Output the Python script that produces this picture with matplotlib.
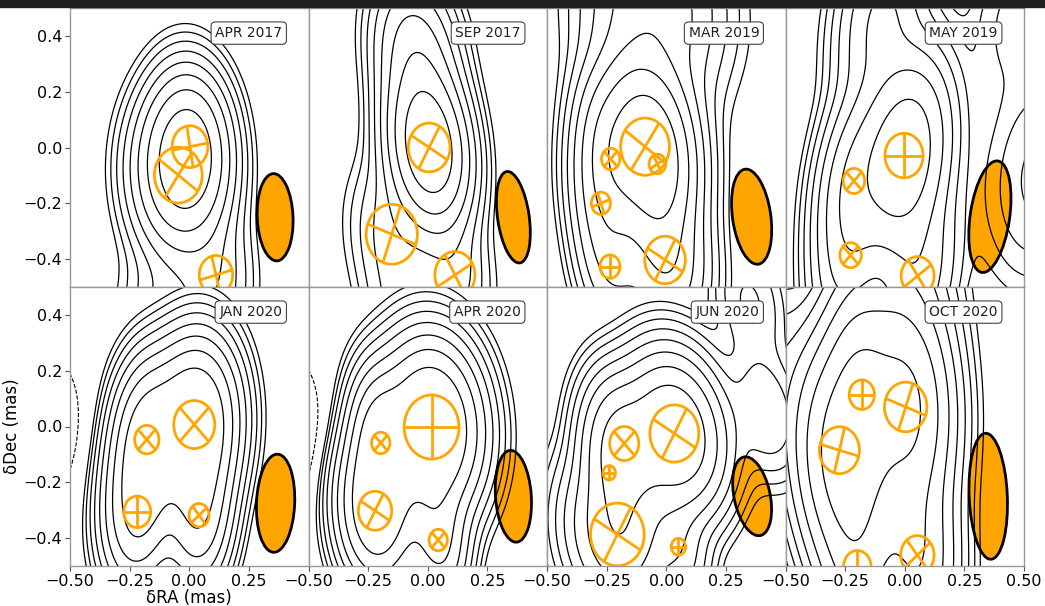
import numpy as np
import matplotlib
matplotlib.use('Agg')
import matplotlib.pyplot as plt
from matplotlib.patches import Ellipse, Circle, Rectangle

# epoch labels
epochs = ['APR 2017', 'SEP 2017', 'MAR 2019', 'MAY 2019',
          'JAN 2020', 'APR 2020', 'JUN 2020', 'OCT 2020']

# model components (mas): position, diameter, cross angle (deg), flux
comp_x = [[0.003, -0.046, 0.112],
          [0.006, -0.151, 0.114],
          [-0.089, -0.037, -0.233, -0.274, -0.236, -0.005],
          [-0.003, -0.213, -0.227, 0.054],
          [0.021, -0.178, -0.218, 0.041],
          [0.016, -0.197, -0.221, 0.044],
          [0.034, -0.176, -0.239, -0.205, 0.051],
          [0.004, -0.180, -0.274, 0.053, -0.199]]
comp_y = [[0.003, -0.099, -0.457],
          [0.000, -0.311, -0.457],
          [0.003, -0.059, -0.041, -0.200, -0.427, -0.403],
          [-0.029, -0.120, -0.386, -0.460],
          [0.007, -0.047, -0.306, -0.318],
          [-0.002, -0.059, -0.302, -0.407],
          [-0.025, -0.061, -0.166, -0.387, -0.431],
          [0.070, 0.114, -0.085, -0.461, -0.502]]
comp_d = [[0.150, 0.200, 0.140],
          [0.175, 0.215, 0.168],
          [0.205, 0.070, 0.077, 0.080, 0.084, 0.170],
          [0.160, 0.090, 0.090, 0.138],
          [0.172, 0.102, 0.113, 0.084],
          [0.230, 0.077, 0.140, 0.077],
          [0.205, 0.122, 0.052, 0.225, 0.060],
          [0.178, 0.106, 0.168, 0.140, 0.115]]
comp_pa = [[10, -35, 15],
           [-30, -20, 30],
           [-35, 30, 45, 20, 0, -30],
           [0, 45, 45, 35],
           [45, 45, 0, 40],
           [0, 45, -30, 45],
           [-30, 45, 0, -30, 0],
           [-20, 0, -15, 40, 0]]
comp_flux = [[1.0, 1.0, 0.1],
             [1.0, 0.10, 0.08],
             [1.0, 0.25, 0.15, 0.1, 0.1, 0.3],
             [1.0, 0.2, 0.12, 0.2],
             [1.0, 0.5, 0.4, 0.3],
             [1.0, 0.3, 0.5, 0.15],
             [1.0, 0.4, 0.1, 0.5, 0.05],
             [1.0, 0.6, 0.9, 0.35, 0.3]]

# faint extended emission outside the model components
ext_x = [[-0.05], [-0.05, -0.10], [-0.05], [-0.10, 0.58, 0.45],
         [-0.65], [-0.65], [0.42, 0.35], [-0.20, -0.55, -0.05]]
ext_y = [[-0.65], [0.35, -0.65], [0.50], [0.45, -0.10, 0.45],
         [0.00], [0.00], [0.05, 0.45], [-0.25, 0.15, 0.50]]
ext_d = [[0.25], [0.20, 0.18], [0.35], [0.15, 0.25, 0.15],
         [0.25], [0.25], [0.12, 0.12], [0.20, 0.20, 0.25]]
ext_flux = [[0.2], [0.3, 0.08], [0.3], [0.15, 0.25, 0.04],
            [-0.05], [-0.05], [0.05, 0.03], [0.4, 0.05, 0.2]]

# restoring beam: x extent, y extent, angle (deg), centre
beam_w = [0.150, 0.132, 0.160, 0.165, 0.160, 0.150, 0.150, 0.160]
beam_h = [0.313, 0.332, 0.345, 0.405, 0.352, 0.330, 0.290, 0.452]
beam_pa = [3, 10, 10, -10, -3, 5, 15, 3]
beam_x = [0.360, 0.359, 0.358, 0.357, 0.362, 0.359, 0.360, 0.350]
beam_y = [-0.250, -0.250, -0.248, -0.248, -0.275, -0.250, -0.250, -0.250]

# contour range as fraction of peak (8 levels, geometric)
lowest = [0.008, 0.014, 0.006, 0.004, 0.010, 0.010, 0.006, 0.004]
highest = [0.55, 0.60, 0.50, 0.55, 0.45, 0.45, 0.50, 0.55]
nlev = 8

orange = '#FFA500'
fwhm2sig = 1.0 / (2 * np.sqrt(2 * np.log(2)))

gx = np.linspace(-0.7, 0.7, 421)
gy = np.linspace(-0.7, 0.7, 421)
X, Y = np.meshgrid(gx, gy)


def beam_cov(w, h, pa):
    t = np.radians(pa)
    R = np.array([[np.cos(t), -np.sin(t)], [np.sin(t), np.cos(t)]])
    D = np.diag([(w * fwhm2sig) ** 2, (h * fwhm2sig) ** 2])
    return R @ D @ R.T


def make_map(i):
    cb = beam_cov(beam_w[i], beam_h[i], beam_pa[i])
    img = np.zeros_like(X)
    xs = comp_x[i] + ext_x[i]
    ys = comp_y[i] + ext_y[i]
    ds = comp_d[i] + ext_d[i]
    fs = comp_flux[i] + ext_flux[i]
    for x0, y0, d, f in zip(xs, ys, ds, fs):
        c = cb + np.eye(2) * (d * fwhm2sig) ** 2
        ci = np.linalg.inv(c)
        dx = X - x0
        dy = Y - y0
        q = ci[0, 0] * dx * dx + 2 * ci[0, 1] * dx * dy + ci[1, 1] * dy * dy
        img += f * np.sqrt(np.linalg.det(cb) / np.linalg.det(c)) * np.exp(-0.5 * q)
    return img


fig, axes = plt.subplots(2, 4, figsize=(10.45, 6.06), dpi=100)
fig.subplots_adjust(left=70 / 1045, right=1024 / 1045, top=1 - 8 / 606,
                    bottom=1 - 566 / 606, wspace=0, hspace=0)

# dark strip along the top edge
fig.patches.append(Rectangle((0, 1 - 7 / 606), 1, 7 / 606, transform=fig.transFigure,
                             color='#1f1f1f', zorder=0))

for i, ax in enumerate(axes.flat):
    img = make_map(i)
    peak = img.max()
    levels = peak * np.geomspace(lowest[i], highest[i], nlev)
    base = levels[0]
    ax.contour(X, Y, img, levels=levels, colors='black', linewidths=0.9, zorder=2)
    if img.min() < -base:
        ax.contour(X, Y, img, levels=[-base], colors='black', linewidths=0.8,
                   linestyles='dashed', zorder=2)

    # beam
    ax.add_patch(Ellipse((beam_x[i], beam_y[i]), beam_w[i], beam_h[i], angle=beam_pa[i],
                         facecolor=orange, edgecolor='black', lw=2, zorder=1))

    # model components with crosses
    for x0, y0, d, pa in zip(comp_x[i], comp_y[i], comp_d[i], comp_pa[i]):
        r = d / 2
        ax.add_patch(Circle((x0, y0), r, fill=False, edgecolor=orange, lw=2, zorder=3))
        for a in (pa, pa + 90):
            t = np.radians(a)
            ax.plot([x0 - r * np.cos(t), x0 + r * np.cos(t)],
                    [y0 - r * np.sin(t), y0 + r * np.sin(t)],
                    color=orange, lw=2, zorder=3, solid_capstyle='butt')

    ax.text(0.89, 0.91, epochs[i], transform=ax.transAxes, ha='right', va='center',
            fontsize=10, color='#222222', zorder=5,
            bbox=dict(boxstyle='round,pad=0.3', facecolor='white', edgecolor='#444444', lw=0.8))

    ax.set_xlim(-0.5, 0.5)
    ax.set_ylim(-0.5, 0.5)
    for s in ax.spines.values():
        s.set_color('#999999')
        s.set_linewidth(1.0)

    row, col = divmod(i, 4)
    ax.set_xticks([-0.5, -0.25, 0.0, 0.25, 0.5])
    ax.set_yticks([-0.4, -0.2, 0.0, 0.2, 0.4])
    ax.tick_params(labelsize=11.5, length=3.5, pad=2, color='#555555')
    if row == 1:
        labs = ['\u22120.50', '\u22120.25', '0.00', '0.25', '0.50' if col == 3 else '']
        ax.set_xticklabels(labs)
    else:
        ax.tick_params(axis='x', bottom=False, labelbottom=False)
    if col == 0:
        ax.set_yticklabels(['\u22120.4', '\u22120.2', '0.0', '0.2', '0.4'])
    else:
        ax.tick_params(axis='y', left=False, labelleft=False)

axes[1, 0].set_xlabel('\u03b4RA (mas)', fontsize=12, labelpad=0)
axes[1, 0].set_ylabel('\u03b4Dec (mas)', fontsize=12, labelpad=2)

fig.savefig('out.png', dpi=100)
